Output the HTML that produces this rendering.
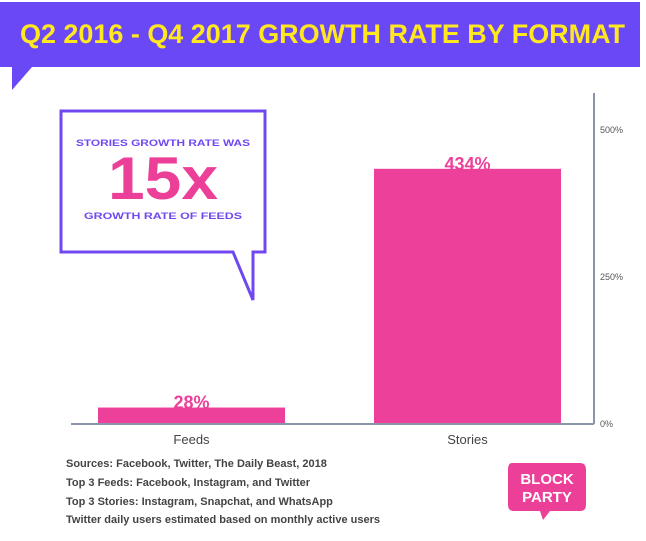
<!DOCTYPE html>
<html><head><meta charset="utf-8"><style>
body{margin:0;width:646px;height:536px;background:#fff;overflow:hidden;font-family:"Liberation Sans",sans-serif;}
</style></head><body>
<svg width="646" height="536" viewBox="0 0 646 536">
<g>
<polygon points="0,2 640,2 640,67 32,67 12,90 12,67 0,67" fill="#6a48f5"/>
<text x="20" y="43" textLength="605" lengthAdjust="spacingAndGlyphs" font-size="27" font-weight="bold" fill="#ffe820">Q2 2016 - Q4 2017 GROWTH RATE BY FORMAT</text>
</g>
<g>
<polygon points="61,111 265,111 265,252 253,252 253,300 233,252 61,252" fill="#fff" stroke="#7048f0" stroke-width="3"/>
<text x="76" y="146" textLength="174" lengthAdjust="spacingAndGlyphs" font-size="9" font-weight="bold" fill="#7048f0">STORIES GROWTH RATE WAS</text>
<text x="163" y="199" text-anchor="middle" textLength="110" lengthAdjust="spacingAndGlyphs" font-size="60" font-weight="bold" fill="#ec3f98">15x</text>
<text x="84" y="219" textLength="158" lengthAdjust="spacingAndGlyphs" font-size="9" font-weight="bold" fill="#7048f0">GROWTH RATE OF FEEDS</text>
</g>
<g id="plot"></g>
<g font-size="11" font-weight="bold" fill="#444">
<text x="66" y="467">Sources: Facebook, Twitter, The Daily Beast, 2018</text>
<text x="66" y="486">Top 3 Feeds: Facebook, Instagram, and Twitter</text>
<text x="66" y="505">Top 3 Stories: Instagram, Snapchat, and WhatsApp</text>
<text x="66" y="523">Twitter daily users estimated based on monthly active users</text>
</g>
<g>
<path d="M512,463 L580,463 Q586,463 586,470 L586,505 Q586,511 580,511 L550,511 L543,520 L540,511 L514,511 Q508,511 508,505 L508,470 Q508,463 512,463 Z" fill="#ec3f98"/>
<text x="547" y="484" text-anchor="middle" font-size="15" font-weight="bold" fill="#fff">BLOCK</text>
<text x="547" y="502" text-anchor="middle" font-size="15" font-weight="bold" fill="#fff">PARTY</text>
</g>
</svg>
<script>
const categories=["Feeds","Stories"];
const values=[28,434];
const valueLabels=["28%","434%"];
const ticks=[0,250,500];
const tickLabels=["0%","250%","500%"];
const NS="http://www.w3.org/2000/svg";
const g=document.getElementById('plot');
const y0=424,yTop=130,vmax=500;
function y(v){return y0-(v/vmax)*(y0-yTop);}
function x(i){return 98+i*276;}
const bw=187;
function mk(t,a){const e=document.createElementNS(NS,t);for(const k in a)e.setAttribute(k,a[k]);g.appendChild(e);return e;}
let ax=mk('line',{x1:594,y1:93,x2:594,y2:y0,stroke:'#8a96a8','stroke-width':2});


ticks.forEach((t,i)=>{const e=mk('text',{x:600,y:y(t)+3,'font-size':9,fill:'#555'});e.textContent=tickLabels[i];

});
categories.forEach((c,i)=>{
 const r=mk('rect',{x:x(i),y:y(values[i]),width:bw,height:y0-y(values[i]),fill:'#ec409a'});
 
 
 const l=mk('text',{x:x(i)+bw/2,y:y(values[i])+1,'text-anchor':'middle','font-size':18,'font-weight':'bold',fill:'#ec409a'});l.textContent=valueLabels[i];
 
 
 const cl=mk('text',{x:x(i)+bw/2,y:444,'text-anchor':'middle','font-size':13,fill:'#444'});cl.textContent=c;
 
 
});
let bl=mk('line',{x1:71,y1:y0,x2:594,y2:y0,stroke:'#8a96a8','stroke-width':2});


</script>
</body></html>
